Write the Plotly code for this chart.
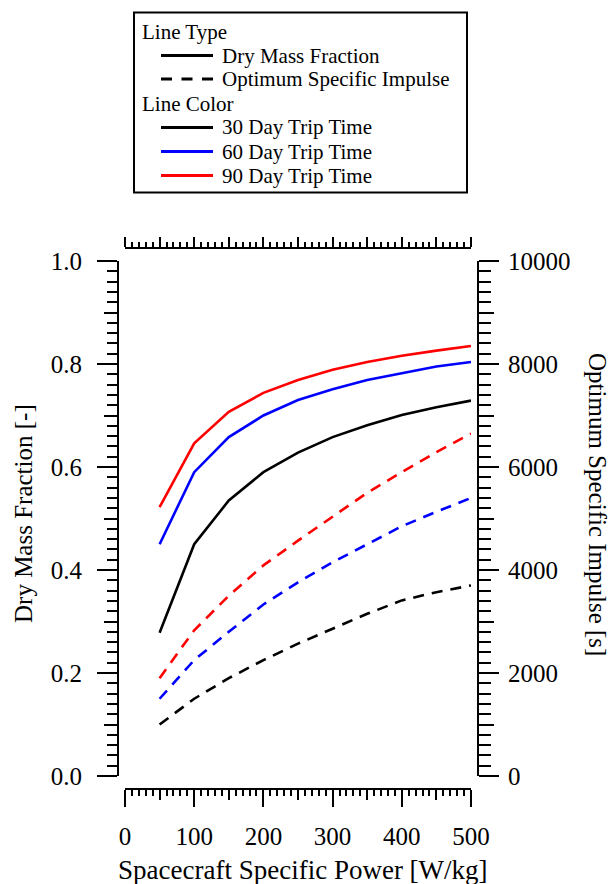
import plotly.graph_objects as go

# ---------------- data ----------------
power = [50, 100, 150, 200, 250, 300, 350, 400, 450, 500]

dmf_30 = [0.278, 0.450, 0.535, 0.590, 0.628, 0.658, 0.681, 0.701, 0.716, 0.729]
dmf_60 = [0.450, 0.590, 0.658, 0.700, 0.730, 0.751, 0.769, 0.782, 0.795, 0.804]
dmf_90 = [0.522, 0.646, 0.707, 0.744, 0.769, 0.789, 0.804, 0.816, 0.826, 0.835]

isp_30 = [1000, 1500, 1900, 2250, 2570, 2860, 3150, 3410, 3570, 3700]
isp_60 = [1500, 2250, 2800, 3330, 3760, 4150, 4500, 4850, 5130, 5400]
isp_90 = [1900, 2830, 3500, 4090, 4570, 5030, 5500, 5900, 6290, 6650]

trip_labels = ["30 Day Trip Time", "60 Day Trip Time", "90 Day Trip Time"]
trip_colors = ["#000000", "#0000FF", "#FF0000"]
type_labels = ["Dry Mass Fraction", "Optimum Specific Impulse"]
legend_headers = ["Line Type", "Line Color"]

x_ticks = [0, 100, 200, 300, 400, 500]
x_mid_ticks = [50, 150, 250, 350, 450]
y1_ticks = [0.0, 0.2, 0.4, 0.6, 0.8, 1.0]
y1_mid_ticks = [0.1, 0.3, 0.5, 0.7, 0.9]
y2_ticks = [0, 2000, 4000, 6000, 8000, 10000]
y2_mid_ticks = [1000, 3000, 5000, 7000, 9000]

x_title = "Spacecraft Specific Power [W/kg]"
y1_title = "Dry Mass Fraction [-]"
y2_title = "Optimum Specific Impulse [s]"

# ---------------- layout constants ----------------
FONT = "Liberation Serif"
W, H = 616, 884
ML, MR, MT, MB = 118, 138, 248, 95
PW = W - ML - MR
PH = H - MT - MB
xdom = [7 / PW, (PW - 7) / PW]
ydom = [13 / PH, (PH - 13) / PH]
DASH = "11px,8px"
LW = 2.6


def pxx(px):
    return (px - ML) / PW


def pxy(py):
    return (MT + PH - py) / PH


fig = go.Figure()

dmf_all = [dmf_30, dmf_60, dmf_90]
isp_all = [isp_30, isp_60, isp_90]
for vals, col in zip(dmf_all, trip_colors):
    fig.add_trace(go.Scatter(x=power, y=vals, mode="lines", xaxis="x", yaxis="y",
                             line=dict(color=col, width=LW), showlegend=False,
                             hoverinfo="skip"))
for vals, col in zip(isp_all, trip_colors):
    fig.add_trace(go.Scatter(x=power, y=vals, mode="lines", xaxis="x", yaxis="y2",
                             line=dict(color=col, width=LW, dash=DASH), showlegend=False,
                             hoverinfo="skip"))

# helper traces so the extra (tick-only) axes get drawn
for xa, ya in [("x2", "y"), ("x3", "y3"), ("x3", "y4")]:
    fig.add_trace(go.Scatter(x=[None], y=[None], xaxis=xa, yaxis=ya, mode="lines",
                             showlegend=False, hoverinfo="skip"))

# ---------------- legend box (drawn manually) ----------------
shapes = [dict(type="rect", xref="paper", yref="paper",
               x0=pxx(134), x1=pxx(467), y0=pxy(12.5), y1=pxy(192.5),
               line=dict(color="black", width=2), fillcolor="white")]
annotations = []
LFS = 21
rows = [
    ("header", legend_headers[0], None, None, 32.5),
    ("item", type_labels[0], "black", "solid", 55.5),
    ("item", type_labels[1], "black", "dash", 79),
    ("header", legend_headers[1], None, None, 103.5),
    ("item", trip_labels[0], trip_colors[0], "solid", 127.5),
    ("item", trip_labels[1], trip_colors[1], "solid", 151.5),
    ("item", trip_labels[2], trip_colors[2], "solid", 175.5),
]
for kind, text, col, dash, yc in rows:
    if kind == "header":
        annotations.append(dict(text=text, xref="paper", yref="paper", x=pxx(140),
                                y=pxy(yc), xanchor="left", yanchor="middle",
                                showarrow=False,
                                font=dict(family=FONT, size=LFS, color="black")))
    else:
        shapes.append(dict(type="line", xref="paper", yref="paper",
                           x0=pxx(161), x1=pxx(213), y0=pxy(yc), y1=pxy(yc),
                           line=dict(color=col, width=3,
                                     dash="solid" if dash == "solid" else "11px,9.5px")))
        annotations.append(dict(text=text, xref="paper", yref="paper", x=pxx(220),
                                y=pxy(yc), xanchor="left", yanchor="middle",
                                showarrow=False,
                                font=dict(family=FONT, size=LFS, color="black")))

# ---------------- axis titles ----------------
annotations.append(dict(text=x_title, xref="paper", yref="paper", x=pxx(303), y=pxy(870),
                        xanchor="center", yanchor="middle", showarrow=False,
                        font=dict(family=FONT, size=27, color="black")))
annotations.append(dict(text=y1_title, xref="paper", yref="paper", x=pxx(23), y=pxy(514),
                        xanchor="center", yanchor="middle", showarrow=False, textangle=-90,
                        font=dict(family=FONT, size=25, color="black")))
annotations.append(dict(text=y2_title, xref="paper", yref="paper", x=pxx(598), y=pxy(504),
                        xanchor="center", yanchor="middle", showarrow=False, textangle=90,
                        font=dict(family=FONT, size=25, color="black")))

tickfont = dict(family=FONT, size=25, color="black")
common = dict(showgrid=False, zeroline=False, linecolor="black", linewidth=2,
              tickcolor="black", tickwidth=2, ticks="outside", tickfont=tickfont,
              automargin=False)
minor_style = dict(tickwidth=2, tickcolor="black", ticks="outside")

fig.update_layout(
    template="none",
    width=W, height=H,
    showlegend=False,
    margin=dict(l=ML, r=MR, t=MT, b=MB, pad=0, autoexpand=False),
    paper_bgcolor="white", plot_bgcolor="white",
    font=dict(family=FONT, size=25, color="black"),
    xaxis=dict(**common, domain=xdom, range=[0, 500], anchor="free", position=0,
               showline=True, tickvals=x_ticks, ticklen=17, ticklabelstandoff=8,
               minor=dict(dtick=10, ticklen=6, **minor_style)),
    xaxis2=dict(**common, domain=xdom, range=[0, 500], overlaying="x", side="top",
                anchor="free", position=1, showline=True, dtick=50, ticklen=10,
                showticklabels=False,
                minor=dict(dtick=10, ticklen=5, **minor_style)),
    xaxis3=dict(**common, domain=xdom, range=[0, 500], overlaying="x", side="bottom",
                anchor="free", position=0, showline=False, tickvals=x_mid_ticks,
                ticklen=10, showticklabels=False),
    yaxis=dict(**common, domain=ydom, range=[0, 1], anchor="free", position=0,
               showline=True, tickvals=y1_ticks, tickformat=".1f", ticklen=20,
               ticklabelstandoff=10,
               minor=dict(dtick=0.02, ticklen=10, **minor_style)),
    yaxis2=dict(**common, domain=ydom, range=[0, 10000], overlaying="y", side="right",
                anchor="free", position=1, showline=True, tickvals=y2_ticks, ticklen=20,
                tickformat="d", ticklabelstandoff=4,
                minor=dict(dtick=200, ticklen=12, **minor_style)),
    yaxis3=dict(**common, domain=ydom, range=[0, 1], overlaying="y", side="left",
                anchor="free", position=0, showline=False, tickvals=y1_mid_ticks,
                ticklen=14, showticklabels=False),
    yaxis4=dict(**common, domain=ydom, range=[0, 10000], overlaying="y", side="right",
                anchor="free", position=1, showline=False, tickvals=y2_mid_ticks,
                ticklen=15, showticklabels=False),
    shapes=shapes,
    annotations=annotations,
)

fig.write_html("out.html", config={"displayModeBar": False},
               post_script="document.body.style.margin='0px';")
